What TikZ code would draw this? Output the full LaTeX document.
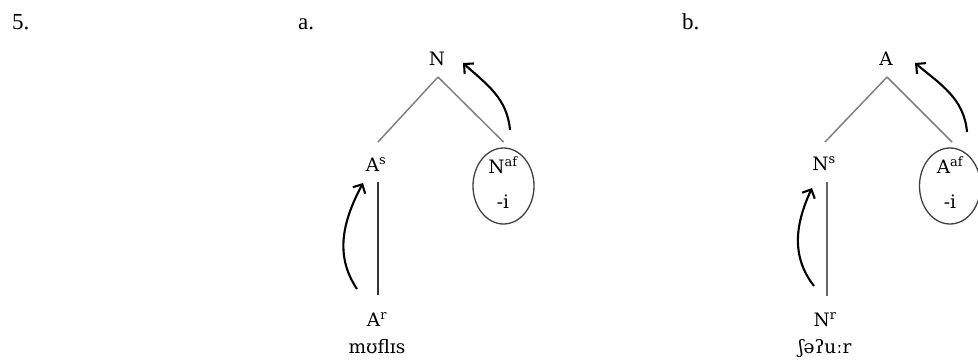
\documentclass[tikz,border=0pt]{standalone}
\usepackage{fontspec}
\setmainfont{Liberation Serif}
\newfontfamily\treefont{DejaVu Serif}
\usetikzlibrary{arrows.meta,shapes.geometric}
\begin{document}
\begin{tikzpicture}[x=1pt,y=-1pt,
  lbl/.style={inner sep=0pt,font=\fontsize{23}{25}\selectfont,anchor=base west},
  tl/.style={inner sep=0pt,font=\treefont\fontsize{18.5}{20}\selectfont,anchor=base},
  branch/.style={draw=black!50,line width=1.5pt},
  stem/.style={draw=black!80,line width=1.3pt},
  ring/.style={draw=black!75,line width=1.3pt,ellipse,minimum width=61pt,minimum height=76pt,inner sep=0pt},
  mv/.style={draw=black,line width=2.1pt,-{Straight Barb[length=7pt,width=14pt,line width=2.1pt]}}]
\useasboundingbox (0,0) rectangle (978,360);
% labels
\node[lbl] (l5) at (12,29) {5.};
\node[lbl] (la) at (298,29) {a.};
\node[lbl] (lb) at (682,29) {b.};
% tree a
\node[tl] (Na) at (437,65) {N};
\node[tl] (As) at (376,171) {A\textsuperscript{s}};
\node[tl] (Naf) at (503,173) {N\textsuperscript{af}};
\node[tl] (ia) at (503,208) {-i};
\node[tl] (Ar) at (377,326) {A\textsuperscript{r}};
\node[tl] (wa) at (377,353) {mʊflɪs};
\node[ring] (Ea) at (503.5,186) {};
\draw[branch] ([shift={(1,12)}]Na.base) -- ([shift={(2,-29)}]As.base);
\draw[branch] ([shift={(1,12)}]Na.base) -- ([shift={(0,-44)}]Ea.center);
\draw[stem] ([shift={(2,11)}]As.base) -- ([shift={(1,-31)}]Ar.base);
\draw[mv] ([shift={(6.5,-56)}]Ea.center) to[out=95,in=-42] ([shift={(26,-2)}]Na.base);
\draw[mv] ([shift={(-20,-37)}]Ar.base) to[out=124,in=-118] ([shift={(-13,12)}]As.base);
% tree b
\node[tl] (Ab) at (886,65) {A};
\node[tl] (Ns) at (824,170) {N\textsuperscript{s}};
\node[tl] (Aaf) at (950,173) {A\textsuperscript{af}};
\node[tl] (ib) at (950,208) {-i};
\node[tl] (Nr) at (825,326) {N\textsuperscript{r}};
\node[tl] (wb) at (825,353) {ʃəʔuːr};
\node[ring] (Eb) at (950,186) {};
\draw[branch] ([shift={(1,12)}]Ab.base) -- ([shift={(1,-28)}]Ns.base);
\draw[branch] ([shift={(1,12)}]Ab.base) -- ([shift={(2,-44)}]Eb.center);
\draw[branch,draw=black!60] ([shift={(3,12)}]Ns.base) -- ([shift={(2,-30)}]Nr.base);
\draw[mv] ([shift={(17,-54)}]Eb.center) to[out=95,in=-40] ([shift={(29,-2)}]Ab.base);
\draw[mv] ([shift={(-11,-40)}]Nr.base) to[out=128,in=-115] ([shift={(-12,18)}]Ns.base);
\end{tikzpicture}
\end{document}
